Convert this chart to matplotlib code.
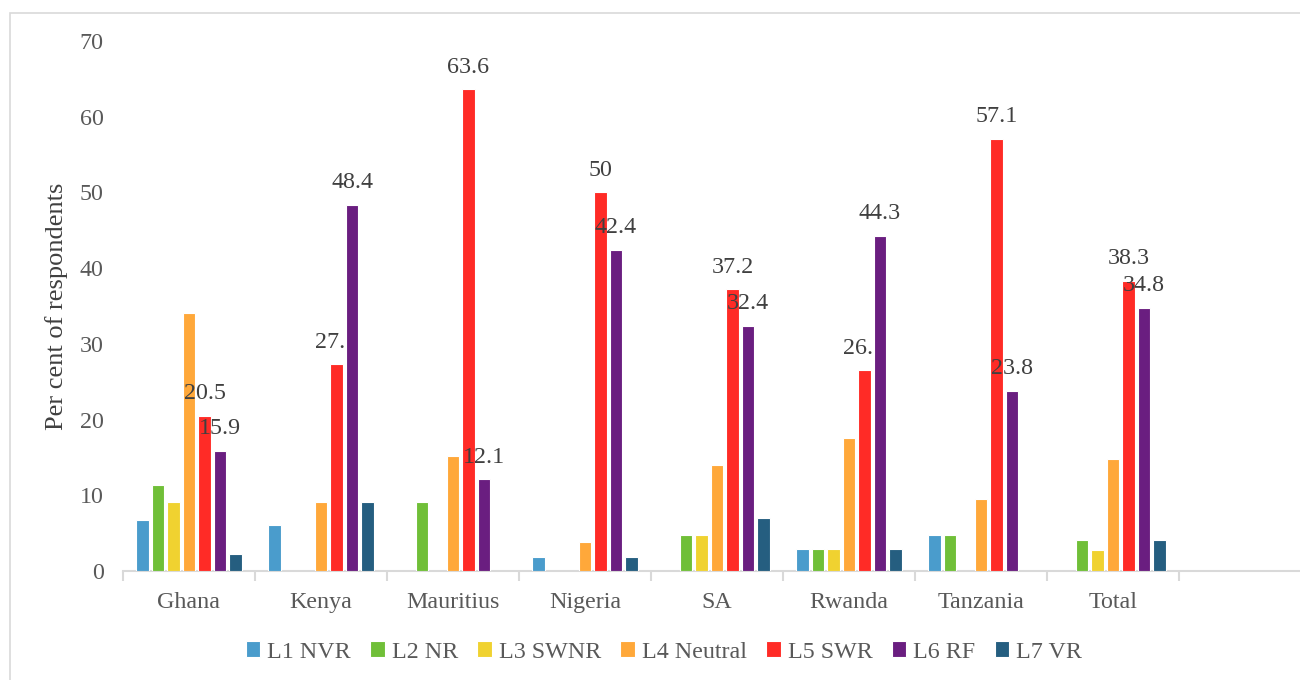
import matplotlib
matplotlib.use("Agg")
import matplotlib.pyplot as plt
import matplotlib.patches as mpatches
import numpy as np

plt.rcParams['font.family'] = ['Liberation Serif', 'DejaVu Serif']

# per cent of respondents per country and rating level
countries = ["Ghana", "Kenya", "Mauritius", "Nigeria", "SA", "Rwanda", "Tanzania", "Total"]
levels = ["L1 NVR", "L2 NR", "L3 SWNR", "L4 Neutral", "L5 SWR", "L6 RF", "L7 VR"]
l1_nvr = [6.8, 6.1, 0, 1.9, 0, 2.9, 4.8, 0]
l2_nr = [11.4, 0, 9.1, 0, 4.7, 2.9, 4.8, 4.1]
l3_swnr = [9.1, 0, 0, 0, 4.7, 2.9, 0, 2.8]
l4_neutral = [34.1, 9.1, 15.2, 3.8, 14.0, 17.6, 9.5, 14.8]
l5_swr = [20.5, 27.3, 63.6, 50, 37.2, 26.5, 57.1, 38.3]
l6_rf = [15.9, 48.4, 12.1, 42.4, 32.4, 44.3, 23.8, 34.8]
l7_vr = [2.3, 9.1, 0, 1.9, 7.0, 2.9, 0, 4.1]

series = [l1_nvr, l2_nr, l3_swnr, l4_neutral, l5_swr, l6_rf, l7_vr]
colors = ["#4A9CCC", "#70BF38", "#F0D230", "#FFA83A", "#FF2B26", "#6A1E80", "#255E80"]
labelled = {"L5 SWR", "L6 RF"}
fs = 17.3

fig = plt.figure(figsize=(13, 6.8), dpi=100)
ax = fig.add_axes([123 / 1300, 109 / 680, 1188 / 1300, 530 / 680])

x = np.arange(len(countries))
slot = 0.1175
for i, (name, vals, col) in enumerate(zip(levels, series, colors)):
    vals = np.array(vals, dtype=float)
    lw = [0.8 if v > 0 else 0 for v in vals]
    bars = ax.bar(x + (i - 3) * slot, vals, width=0.095, color=col,
                  edgecolor="white", linewidth=lw, label=name, zorder=3 + 2 * i)
    if name in labelled:
        for b, v in zip(bars, vals):
            ax.annotate(f"{v:g}", (b.get_x() + b.get_width() / 2, v),
                        xytext=(0, 12), textcoords="offset points",
                        ha="center", va="baseline", fontsize=fs,
                        color="#404040", zorder=4 + 2 * i, annotation_clip=False)

ax.set_xlim(-0.5, 8.5)
ax.set_ylim(0, 70)
ax.set_yticks(np.arange(0, 71, 10))
ax.set_xticks(np.arange(9))
ax.set_xticklabels(countries + [""])
ax.set_xticks(np.arange(-0.5, 9, 1), minor=True)
ax.tick_params(axis="x", which="major", length=0, pad=15, labelsize=fs, labelcolor="#595959")
ax.tick_params(axis="x", which="minor", length=7, width=1.5, color="#d9d9d9")
ax.tick_params(axis="y", length=0, pad=14, labelsize=fs, labelcolor="#595959")

for s in ["top", "right", "left"]:
    ax.spines[s].set_visible(False)
ax.spines["bottom"].set_color("#d9d9d9")
ax.spines["bottom"].set_linewidth(1.5)
ax.spines["bottom"].set_zorder(2)

ax.set_ylabel("Per cent of respondents", fontsize=19, color="#404040", labelpad=8)

handles, labels = ax.get_legend_handles_labels()
leg = fig.legend(handles, labels, loc="center", bbox_to_anchor=(664 / 1300, 1 - 652 / 680),
                 ncol=7, frameon=False, fontsize=fs, handlelength=0.6, handleheight=0.6,
                 handletextpad=0.3, columnspacing=0.8, labelcolor="#595959")

# outer chart border
fig.patches.append(mpatches.Rectangle((10 / 1300, -0.05), 1.1, 1.05 - 13.5 / 680,
                                      transform=fig.transFigure, fill=False,
                                      edgecolor="#d9d9d9", linewidth=1.2))

fig.savefig("out.png", dpi=100)
